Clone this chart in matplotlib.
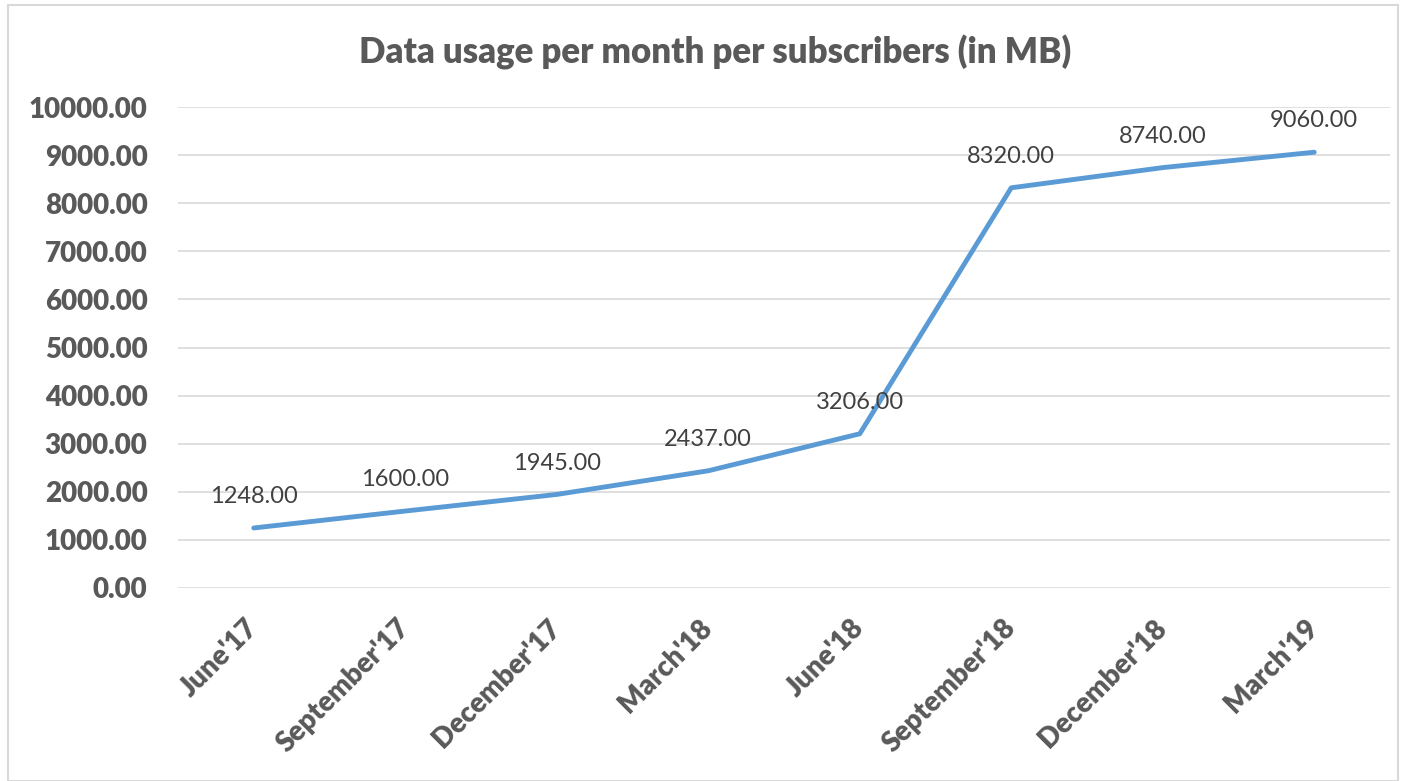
import numpy as np
import matplotlib
matplotlib.use("Agg")
import matplotlib.pyplot as plt
from matplotlib.patches import Rectangle

plt.rcParams['font.family'] = ['Lato', 'DejaVu Sans']

months = ["June'17", "September'17", "December'17", "March'18",
          "June'18", "September'18", "December'18", "March'19"]
usage_mb = [1248.00, 1600.00, 1945.00, 2437.00, 3206.00, 8320.00, 8740.00, 9060.00]
y_ticks = np.arange(0, 10001, 1000)

grey_txt = '#595959'
label_txt = '#404040'
line_col = '#5B9BD5'

fig = plt.figure(figsize=(14.06, 7.81), dpi=100)
ax = fig.add_axes([178/1406, 1-588/781, (1390-178)/1406, (588-107)/781])

x = np.arange(len(months))
ax.plot(x, usage_mb, color=line_col, linewidth=3.5, solid_capstyle='round',
        solid_joinstyle='round', zorder=3)

for xi, v in zip(x, usage_mb):
    ax.annotate(f"{v:.2f}", (xi, v), xytext=(0, 15), textcoords='offset points',
                ha='center', va='bottom', fontsize=17, color=label_txt, zorder=4)

ax.set_xlim(-0.5, len(months) - 0.5)
ax.set_ylim(0, 10000)
ax.set_yticks(y_ticks)
ax.set_yticklabels([f"{t:.2f}" for t in y_ticks], fontsize=20, fontweight='heavy',
                   color=grey_txt)
ax.set_xticks(x)
ax.set_xticklabels(months, fontsize=20, fontweight='heavy', color=grey_txt,
                   rotation=45, ha='right', va='center', rotation_mode='anchor')
ax.tick_params(axis='both', length=0)
ax.tick_params(axis='y', pad=22)
ax.tick_params(axis='x', pad=26)
ax.grid(axis='y', color='#D9D9D9', linewidth=1.2)
ax.set_axisbelow(True)
for s in ax.spines.values():
    s.set_visible(False)

fig.text(715/1406, 1-52/781, "Data usage per month per subscribers (in MB)",
         ha='center', va='center', fontsize=25, fontweight='heavy', color=grey_txt)

fig.patches.append(Rectangle((8/1406, 0.0), 1-16/1406, 1-5/781, transform=fig.transFigure,
                             fill=False, edgecolor='#D9D9D9', linewidth=1.5))

fig.savefig('out.png', dpi=100)
